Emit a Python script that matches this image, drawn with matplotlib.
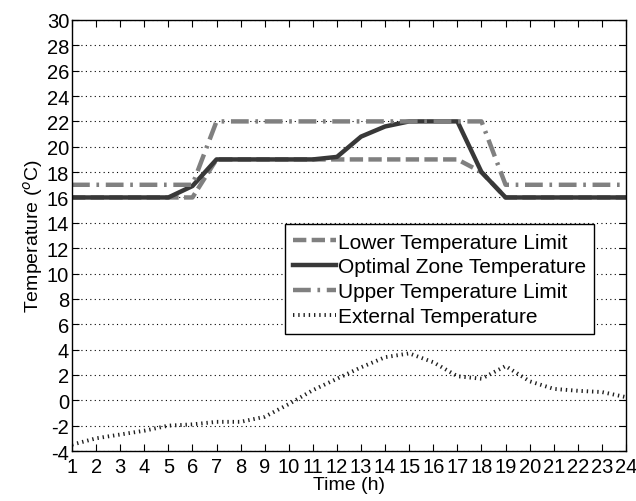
import matplotlib.pyplot as plt

hours = list(range(1, 25))

lower_limit = [16, 16, 16, 16, 16, 16, 19, 19, 19, 19, 19, 19,
               19, 19, 19, 19, 19, 18, 16, 16, 16, 16, 16, 16]
optimal_temp = [16, 16, 16, 16, 16, 16.9, 19, 19, 19, 19, 19, 19.2,
                20.8, 21.6, 22, 22, 22, 18, 16, 16, 16, 16, 16, 16]
upper_limit = [17, 17, 17, 17, 17, 17, 22, 22, 22, 22, 22, 22,
               22, 22, 22, 22, 22, 22, 17, 17, 17, 17, 17, 17]
external_temp = [-3.5, -3.0, -2.7, -2.4, -2.0, -1.9, -1.7, -1.7, -1.3, -0.3, 0.8, 1.7,
                 2.6, 3.4, 3.7, 3.0, 1.9, 1.7, 2.7, 1.5, 0.9, 0.75, 0.65, 0.25]

plt.rcParams['font.family'] = ['Liberation Sans', 'DejaVu Sans']
plt.rcParams['axes.unicode_minus'] = False

fig = plt.figure(figsize=(6.36, 5.02), dpi=100)
ax = fig.add_axes([0.1132, 0.0996, 0.8711, 0.8586])

ax.plot(hours, lower_limit, color="#808080", linewidth=3.2, linestyle=(0, (3, 1.2)),
        label="Lower Temperature Limit")
ax.plot(hours, optimal_temp, color="#383838", linewidth=3.2,
        label="Optimal Zone Temperature")
ax.plot(hours, upper_limit, color="#808080", linewidth=3.2, linestyle=(0, (4, 1.5, 0.6, 1.5)),
        label="Upper Temperature Limit")
ax.plot(hours, external_temp, color="#202020", linewidth=2.8, linestyle=(0, (0.35, 1.0)),
        label="External Temperature")

ax.set_xlim(1, 24)
ax.set_ylim(-4, 30)
ax.set_xticks(hours)
ax.set_yticks(range(-4, 31, 2))
ax.tick_params(direction="in", length=5, top=True, right=True, labelsize=14.5, pad=2)
ax.tick_params(axis="x", pad=4)
ax.yaxis.grid(True, linestyle=(0, (1, 3)), color="black", linewidth=0.8)
for s in ax.spines.values():
    s.set_linewidth(1)

ax.set_xlabel("Time (h)", fontsize=14, labelpad=0)
ax.set_ylabel("Temperature ($^{o}$C)", fontsize=14, labelpad=1)

leg = ax.legend(loc="upper left", bbox_to_anchor=(0.384, 0.526), borderaxespad=0,
                fontsize=15, fancybox=False, edgecolor="black", framealpha=1,
                handlelength=2.05, handletextpad=0.1, labelspacing=0.28,
                borderpad=0.4)
leg.get_frame().set_linewidth(1)

fig.savefig("out.png", dpi=100)
